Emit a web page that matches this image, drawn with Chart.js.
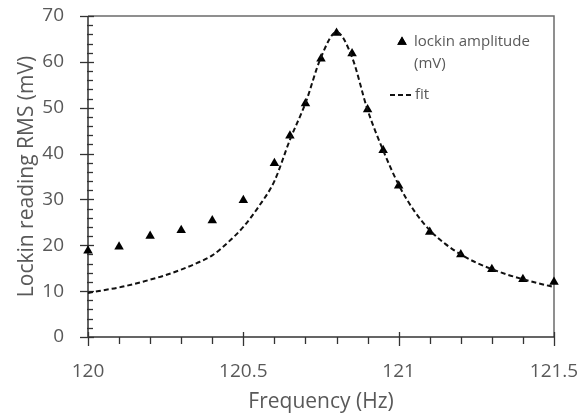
<!DOCTYPE html>
<html>
<head>
<meta charset="utf-8">
<script src="https://cdn.jsdelivr.net/npm/chart.js@4.4.0/dist/chart.umd.min.js"></script>
<style>
  html, body { margin: 0; padding: 0; background: #ffffff; }
  #wrap { width: 582px; height: 415px; }
</style>
</head>
<body>
<div id="wrap"><canvas id="resonanceChart" width="582" height="415"></canvas></div>
<script>
// Measured points (Hz, mV)
const freqs = [120.0, 120.1, 120.2, 120.3, 120.4, 120.5, 120.6, 120.65, 120.7, 120.75,
  120.8, 120.85, 120.9, 120.95, 121.0, 121.1, 121.2, 121.3, 121.4, 121.5];
const amplitude = [18.8, 19.7, 22.0, 23.3, 25.4, 29.8, 37.9, 43.9, 50.9, 60.7,
  66.3, 61.8, 49.6, 40.7, 33.0, 22.9, 18.0, 14.8, 12.6, 12.0];

// Fit curve
const fitFreqs = [120.0, 120.05, 120.1, 120.15, 120.2, 120.25, 120.3, 120.35, 120.4, 120.45,
  120.5, 120.55, 120.6, 120.65, 120.7, 120.75, 120.8, 120.85, 120.9, 120.95,
  121.0, 121.05, 121.1, 121.15, 121.2, 121.25, 121.3, 121.35, 121.4, 121.45, 121.5];
const fitValues = [9.6, 10.2, 10.8, 11.6, 12.5, 13.5, 14.7, 16.1, 17.8, 20.6,
  24.0, 28.5, 34.0, 43.0, 51.0, 61.0, 66.5, 61.0, 49.5, 40.7,
  33.2, 27.5, 23.3, 20.3, 18.0, 16.2, 14.8, 13.6, 12.6, 11.7, 10.9];

const xTicks = [120, 120.5, 121, 121.5];
const yTicks = [0, 10, 20, 30, 40, 50, 60, 70];

const textGrey = "#595959";
const fontName = "'Open Sans', Lato, sans-serif";

// Build point lists for the chart
const measured = freqs.map((f, i) => ({ x: f, y: amplitude[i] }));
const fitted = fitFreqs.map((f, i) => ({ x: f, y: fitValues[i] }));

// Plot frame, Excel style tick marks and the legend
const framePlugin = {
  id: "frame",
  beforeDatasetsDraw(chart) {
    const c = chart.ctx;
    const a = chart.chartArea;
    const xs = chart.scales.x;
    const ys = chart.scales.y;
    c.save();
    // top and right border
    c.strokeStyle = "#6b6b6b";
    c.lineWidth = 1.5;
    c.beginPath();
    c.moveTo(a.left, a.top);
    c.lineTo(a.right, a.top);
    c.lineTo(a.right, a.bottom);
    c.stroke();
    // axis lines
    c.strokeStyle = "#333333";
    c.lineWidth = 1.5;
    c.beginPath();
    c.moveTo(a.left, a.top);
    c.lineTo(a.left, a.bottom);
    c.lineTo(a.right, a.bottom);
    c.stroke();
    // x ticks every 0.1
    c.lineWidth = 1.3;
    for (let i = 0; i <= 15; i++) {
      const px = Math.round(xs.getPixelForValue(120 + i * 0.1)) + 0.5;
      c.beginPath();
      if (i % 5 === 0) {
        c.moveTo(px, a.bottom - 5);
        c.lineTo(px, a.bottom + 9);
      } else {
        c.moveTo(px, a.bottom);
        c.lineTo(px, a.bottom + 7);
      }
      c.stroke();
    }
    // y ticks every 2
    for (let v = 0; v <= 70; v += 2) {
      const py = Math.round(ys.getPixelForValue(v)) + 0.5;
      c.beginPath();
      if (v % 10 === 0) {
        c.moveTo(a.left - 8, py);
        c.lineTo(a.left + 6, py);
      } else {
        c.moveTo(a.left - 1, py);
        c.lineTo(a.left + 5, py);
      }
      c.stroke();
    }
    c.restore();
  },
  afterDraw(chart) {
    const c = chart.ctx;
    const dsPoints = chart.data.datasets[1];
    const dsFit = chart.data.datasets[0];
    c.save();
    // triangle marker
    Chart.helpers.drawPoint(c, {
      pointStyle: "triangle", radius: dsPoints.pointRadius, rotation: 0, borderWidth: 0
    }, 402, 42);
    c.fillStyle = dsPoints.pointBackgroundColor;
    c.fill();
    // dashed sample
    c.strokeStyle = dsFit.borderColor;
    c.lineWidth = dsFit.borderWidth;
    c.setLineDash(dsFit.borderDash);
    c.beginPath();
    c.moveTo(390, 95);
    c.lineTo(413, 95);
    c.stroke();
    c.setLineDash([]);
    // labels
    c.fillStyle = textGrey;
    c.font = "15px " + fontName;
    c.textBaseline = "middle";
    c.textAlign = "left";
    c.fillText("lockin amplitude", 414, 42);
    c.fillText("(mV)", 414, 64);
    c.fillText("fit", 415, 95);
    c.restore();
  }
};

const ctx = document.getElementById("resonanceChart").getContext("2d");
const resonanceChart = new Chart(ctx, {
  type: "scatter",
  data: {
    datasets: [
      {
        label: "fit",
        data: fitted,
        showLine: true,
        pointRadius: 0,
        borderColor: "#111111",
        borderWidth: 2,
        borderDash: [5, 3],
        cubicInterpolationMode: "monotone",
        clip: false
      },
      {
        label: "lockin amplitude (mV)",
        data: measured,
        pointStyle: "triangle",
        pointRadius: 5.5,
        pointBackgroundColor: "#000000",
        pointBorderColor: "#000000",
        pointBorderWidth: 0,
        showLine: false,
        clip: false
      }
    ]
  },
  options: {
    responsive: false,
    maintainAspectRatio: false,
    animation: false,
    layout: { padding: { left: 0, top: 16, right: 28, bottom: 0 } },
    plugins: {
      legend: { display: false },
      tooltip: { enabled: false }
    },
    scales: {
      x: {
        type: "linear",
        min: 120,
        max: 121.5,
        afterBuildTicks: (scale) => { scale.ticks = xTicks.map(v => ({ value: v })); },
        afterFit: (scale) => {
          scale.height = 78;
          scale.paddingLeft = 0;
          scale.paddingRight = 0;
        },
        grid: { display: false, drawTicks: false },
        border: { display: false },
        ticks: {
          color: textGrey,
          font: { family: fontName, size: 19 },
          padding: 23,
          maxRotation: 0,
          callback: (v) => String(v)
        },
        title: {
          display: true,
          text: "Frequency (Hz)",
          color: textGrey,
          font: { family: fontName, size: 21 },
          padding: { top: 0, bottom: 0 }
        }
      },
      y: {
        type: "linear",
        min: 0,
        max: 70,
        afterBuildTicks: (scale) => { scale.ticks = yTicks.map(v => ({ value: v })); },
        afterFit: (scale) => {
          scale.width = 88;
          scale.paddingTop = 0;
          scale.paddingBottom = 0;
        },
        grid: { display: false, drawTicks: false },
        border: { display: false },
        ticks: {
          color: textGrey,
          font: { family: fontName, size: 19 },
          padding: 24
        },
        title: {
          display: true,
          text: "Lockin reading RMS (mV)",
          color: textGrey,
          font: { family: fontName, size: 21 },
          padding: { top: 14, bottom: 0 }
        }
      }
    }
  },
  plugins: [framePlugin]
});
</script>
</body>
</html>
